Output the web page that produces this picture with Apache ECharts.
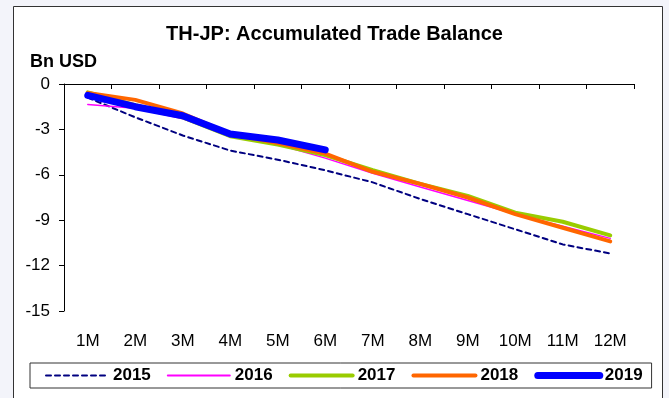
<!DOCTYPE html>
<html>
<head>
<meta charset="utf-8">
<script src="https://cdn.jsdelivr.net/npm/echarts@6/dist/echarts.min.js"></script>
<style>
  html, body { margin: 0; padding: 0; background: #f3f4fa; }
  #chart { width: 669px; height: 398px; }
</style>
</head>
<body>
<div id="chart"></div>
<script>
// Month categories and y-axis ticks
const months = ['1M', '2M', '3M', '4M', '5M', '6M', '7M', '8M', '9M', '10M', '11M', '12M'];
const yMin = -15, yMax = 0, yStep = 3;

// Accumulated trade balance, Bn USD
const y2015 = [-0.9, -2.2, -3.4, -4.4, -5.0, -5.7, -6.5, -7.6, -8.6, -9.6, -10.6, -11.2];
const y2016 = [-1.35, -1.6, -2.3, -3.4, -4.0, -4.9, -5.9, -6.8, -7.7, -8.6, -9.4, -10.2];
const y2017 = [-0.55, -1.4, -2.2, -3.45, -4.0, -4.7, -5.7, -6.6, -7.4, -8.5, -9.1, -10.0];
const y2018 = [-0.6, -1.05, -1.95, -3.3, -3.9, -4.6, -5.8, -6.6, -7.5, -8.6, -9.5, -10.4];
const y2019 = [-0.75, -1.5, -2.1, -3.3, -3.7, -4.35];

const font = 'Arial, "Liberation Sans", sans-serif';
const chart = echarts.init(document.getElementById('chart'), null, { renderer: 'canvas' });

// Per-year line styles, shared by the series and the legend swatches
const styles = {
  '2015': { color: '#000080', width: 2, type: [5, 4], z: 2 },
  '2016': { color: '#ff00ff', width: 1.5, type: 'solid', z: 3 },
  '2017': { color: '#99cc00', width: 4, type: 'solid', z: 4 },
  '2018': { color: '#ff6600', width: 4, type: 'solid', z: 5 },
  '2019': { color: '#0000ff', width: 7, type: 'solid', z: 6 }
};

function line(name, data) {
  const s = styles[name];
  return {
    name: name, type: 'line', data: data, xAxisIndex: 0,
    symbol: 'none', z: s.z, animation: false,
    lineStyle: { color: s.color, width: s.width, type: s.type, cap: 'round', join: 'round' },
    itemStyle: { color: s.color }
  };
}

function legendItem(name) {
  const s = styles[name];
  return {
    name: name,
    itemStyle: { opacity: 0 },
    lineStyle: { color: s.color, width: Math.max(s.width, 2), type: s.type, cap: 'round' }
  };
}

chart.setOption({
  backgroundColor: 'transparent',
  animation: false,
  graphic: [{
    type: 'rect', z: -10, silent: true,
    shape: { x: 13.5, y: 6.5, width: 649, height: 400 },
    style: { fill: '#ffffff', stroke: '#333333', lineWidth: 1 }
  }],
  title: {
    text: 'TH-JP: Accumulated Trade Balance',
    left: 'center', top: 19,
    textStyle: { fontFamily: font, fontSize: 20, fontWeight: 'bold', color: '#000' }
  },
  grid: { left: 64, right: 35, top: 84, bottom: 87, containLabel: false },
  xAxis: [{
    type: 'category', data: months, position: 'bottom', boundaryGap: true,
    axisLine: { show: false }, axisTick: { show: false },
    axisLabel: { margin: 22, color: '#000', fontFamily: font, fontSize: 17 }
  }, {
    type: 'category', data: months, position: 'top', boundaryGap: true,
    axisLine: { show: true, lineStyle: { color: '#000', width: 1 } },
    axisTick: { show: true, inside: true, length: 5, lineStyle: { color: '#000' } },
    axisLabel: { show: false }
  }],
  yAxis: {
    type: 'value', min: yMin, max: yMax, interval: yStep,
    name: 'Bn USD', nameLocation: 'end', nameGap: 13,
    nameTextStyle: { fontFamily: font, fontSize: 18, fontWeight: 'bold', color: '#000', align: 'left', padding: [0, 0, 0, -34] },
    axisLine: { show: true, lineStyle: { color: '#000', width: 1 } },
    axisTick: { show: true, length: 5, lineStyle: { color: '#000' } },
    splitLine: { show: false },
    axisLabel: { margin: 14, color: '#000', fontFamily: font, fontSize: 17 }
  },
  legend: {
    left: 30, top: 363, width: 630, orient: 'horizontal',
    itemWidth: 62, itemHeight: 14, itemGap: 16,
    padding: [4, 9, 4, 15], borderColor: '#333', borderWidth: 1,
    textStyle: { fontFamily: font, fontSize: 17, fontWeight: 'bold', color: '#000' },
    data: ['2015', '2016', '2017', '2018', '2019'].map(legendItem)
  },
  series: [
    line('2015', y2015),
    line('2016', y2016),
    line('2017', y2017),
    line('2018', y2018),
    line('2019', y2019)
  ]
});
</script>
</body>
</html>
